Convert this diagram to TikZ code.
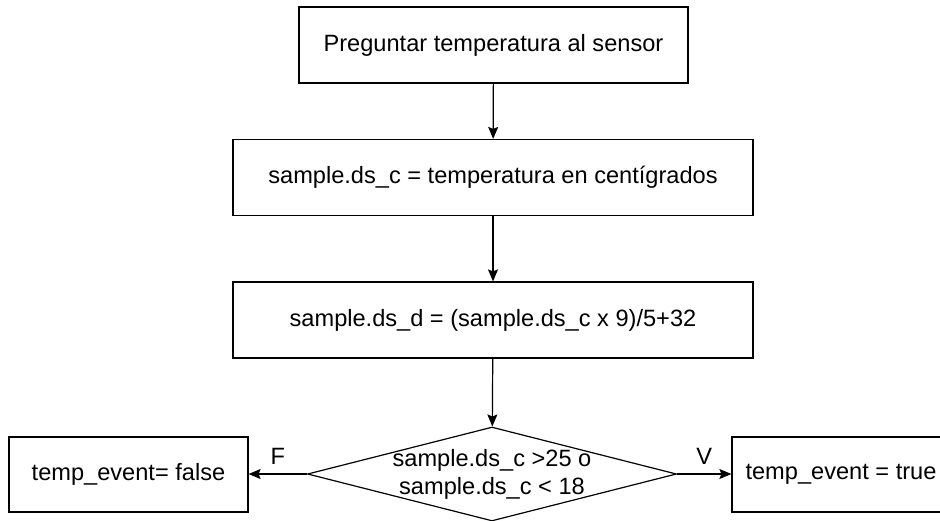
\documentclass[tikz,border=0pt]{standalone}
\usepackage{fontspec}
\setmainfont{Liberation Sans}
\usetikzlibrary{shapes.geometric,arrows.meta}

\tikzset{
  stepbox/.style={draw, rectangle, line width=1.2pt, inner sep=0pt, align=center},
  decision/.style={draw, diamond, line width=1.2pt, inner sep=0pt,
    minimum width=369pt, minimum height=94pt, shape aspect=3.9},
  flow/.style={->, >={Stealth[length=12pt, width=10pt, inset=2pt]}, line width=1.2pt}
}

\begin{document}
\begin{tikzpicture}[x=1pt, y=-1pt, font=\fontsize{23.6}{28}\selectfont]

            \def \boxh {76pt} % all boxes have the same height
            \clip (0,0) rectangle (940,520);

            \node[stepbox, minimum width=389pt, minimum height=\boxh] (ask) at (493.5,45) {Preguntar temperatura al sensor};
            \node[stepbox, minimum width=520pt, minimum height=\boxh] (celsius) at (493,177.5) {sample.ds\_c = temperatura en centígrados};
            \node[stepbox, minimum width=520pt, minimum height=\boxh] (fahr) at (493,320) {sample.ds\_d = (sample.ds\_c x 9)/5+32};
            \node[decision, label={[align=center, inner sep=0pt]center:sample.ds\_c >25 o\\sample.ds\_c < 18}] (cond) at (492,474) {};
            \node[stepbox, minimum width=239pt, minimum height=75pt] (false) at (128.5,474.5) {temp\_event= false};
            \node[stepbox, minimum width=218pt, minimum height=75pt] (true) at (841,474.5) {temp\_event = true};

            \draw[flow] (ask) -- (celsius);
            \draw[flow] (celsius) -- (fahr);
            \draw[flow] (fahr) -- (cond);
            \draw[flow] (cond.west) -- node[above=6pt] {F} (false.east |- cond.west);
            \draw[flow] (cond.east) -- node[above=6pt] {V} (true.west |- cond.east);
            \end{tikzpicture}
\end{document}
